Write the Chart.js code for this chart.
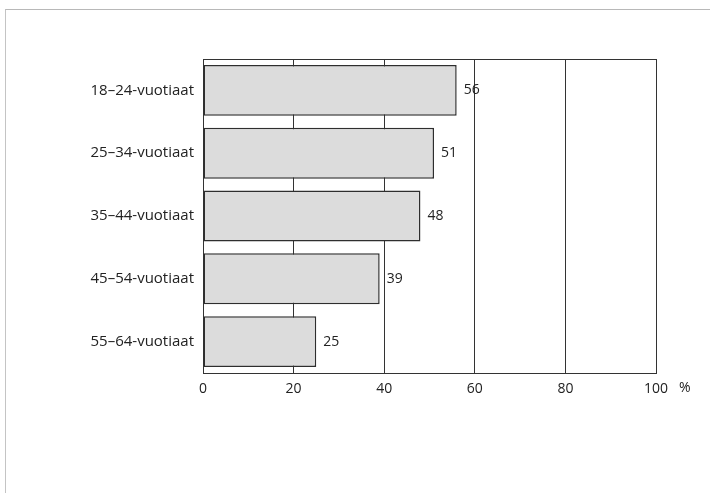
<!DOCTYPE html>
<html>
<head>
<meta charset="utf-8">
<script src="https://cdn.jsdelivr.net/npm/chart.js@4"></script>
<style>
html,body{margin:0;padding:0;background:#fff;}
#wrap{position:absolute;left:0;top:0;width:710px;height:493px;}
#frame{position:absolute;left:5px;top:9px;width:705px;height:484px;border-top:1px solid #b8b8b8;border-left:1px solid #c4c4c4;box-sizing:border-box;pointer-events:none;}
</style>
</head>
<body>
<div id="wrap"><canvas id="c" width="710" height="493"></canvas></div>
<div id="frame"></div>
<script>
const categories = ["18–24-vuotiaat","25–34-vuotiaat","35–44-vuotiaat","45–54-vuotiaat","55–64-vuotiaat"];
const values = [56, 51, 48, 39, 25];
const xTicks = [0, 20, 40, 60, 80, 100];
const unitLabel = "%";

const FONT = "'Open Sans', 'Noto Sans', sans-serif";
const TXT = "#222";

const extras = {
  id: 'extras',
  beforeDatasetsDraw(chart) {
    const {ctx, chartArea: a} = chart;
    ctx.save();
    ctx.strokeStyle = '#333';
    ctx.lineWidth = 1;
    ctx.beginPath();
    ctx.moveTo(a.left, a.top + 0.5);
    ctx.lineTo(a.right, a.top + 0.5);
    ctx.stroke();
    ctx.restore();
  },
  afterDatasetsDraw(chart) {
    const {ctx} = chart;
    const meta = chart.getDatasetMeta(0);
    ctx.save();
    ctx.font = "14px " + FONT;
    ctx.fillStyle = TXT;
    ctx.textBaseline = 'middle';
    ctx.textAlign = 'left';
    meta.data.forEach((bar, i) => {
      ctx.fillText(String(values[i]), bar.x + 7, bar.y);
    });
    // unit after last tick
    const xs = chart.scales.x;
    const px = xs.getPixelForValue(xTicks[xTicks.length - 1]);
    ctx.font = "14px " + FONT;
    ctx.textBaseline = 'middle';
    ctx.fillText(unitLabel, px + 23, chart.chartArea.bottom + 15);
    ctx.restore();
  }
};

new Chart(document.getElementById('c'), {
  type: 'bar',
  data: {
    labels: categories,
    datasets: [{
      data: values,
      backgroundColor: '#dcdcdc',
      borderColor: '#2e2e2e',
      borderWidth: 1.5,
      borderSkipped: false,
      barPercentage: 0.81,
      categoryPercentage: 1
    }]
  },
  options: {
    indexAxis: 'y',
    responsive: false,
    animation: false,
    devicePixelRatio: 1,
    layout: {padding: {left: 0, right: 54, top: 59, bottom: 90}},
    plugins: {legend: {display: false}, tooltip: {enabled: false}},
    scales: {
      x: {
        min: 0, max: 100,
        afterBuildTicks(scale) { scale.ticks = xTicks.map(v => ({value: v})); },
        afterFit(scale) { scale.height = 30; },
        grid: {color: '#333', lineWidth: 1, drawTicks: false},
        border: {display: true, color: '#333', width: 1},
        ticks: {color: TXT, font: {family: FONT, size: 14}, padding: 8}
      },
      y: {
        afterFit(scale) { scale.width = 203; },
        grid: {display: false, drawTicks: false},
        border: {display: true, color: '#333', width: 1},
        ticks: {color: TXT, font: {family: FONT, size: 15}, padding: 9}
      }
    }
  },
  plugins: [extras]
});
</script>
</body>
</html>
